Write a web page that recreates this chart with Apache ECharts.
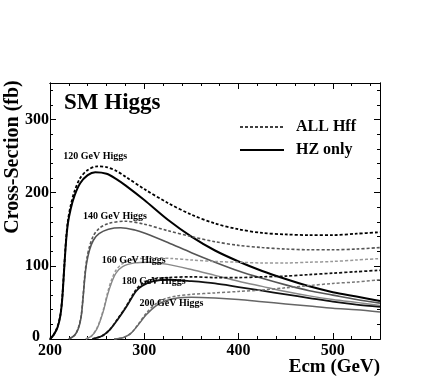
<!DOCTYPE html>
<html>
<head>
<meta charset="utf-8">
<script src="https://cdn.jsdelivr.net/npm/echarts@6/dist/echarts.min.js"></script>
<style>
html, body { margin: 0; padding: 0; background: #fff; }
#chart { width: 427px; height: 377px; }
</style>
</head>
<body>
<div id="chart"></div>
<script>
// cross-section (fb) vs Ecm (GeV)
var h120All = [[200,0],[204,6],[208,17],[211,33],[213,57],[215,97],[217,136],[219,162],[222,183],[226,202],[232,220],[240,231],[250,236],[260,235],[270,230],[280,222],[300,205],[325,186],[350,170],[375,158],[400,150],[425,145],[450,143],[475,142],[500,142],[525,144],[550,146]];
var h120Hz = [[200,0],[204,6],[208,16],[211,32],[213,55],[215,95],[217,133],[219,158],[222,178],[226,196],[232,213],[240,224],[248,228],[260,226],[270,219],[280,210],[300,190],[325,163],[350,140],[375,121],[400,106],[425,93],[450,82],[475,72],[500,64],[525,58],[550,52]];
var h140All = [[220,0],[226,5],[230,15],[233,31],[235,57],[237,88],[239,109],[242,127],[246,141],[252,151],[262,158],[280,161],[300,157],[325,148],[350,140],[375,133],[400,128],[425,125],[450,123],[475,122],[500,122],[525,123],[550,125]];
var h140Hz = [[220,0],[226,5],[230,14],[233,30],[235,55],[237,85],[239,105],[242,122],[246,135],[252,144],[262,150],[275,152],[290,149],[300,145],[325,132],[350,118],[375,105],[400,93],[425,83],[450,74],[475,66],[500,60],[525,54],[550,49]];
var h160All = [[238,0],[244,4],[249,13],[253,25],[257,42],[261,63],[265,80],[270,94],[277,103],[290,109],[310,111],[330,110],[350,108],[375,106],[400,105],[425,104],[450,104],[475,105],[500,106],[525,108],[550,110]];
var h160Hz = [[238,0],[244,4],[249,12],[253,24],[257,40],[261,60],[265,76],[270,90],[277,99],[290,104],[305,105],[325,102],[350,95],[375,87],[400,79],[425,72],[450,65],[475,59],[500,54],[525,50],[550,46]];
var h180All = [[245,0],[255,4],[263,12],[272,28],[281,45],[291,67],[298,76],[310,82],[325,84],[350,85],[375,84],[400,84],[425,85],[450,86],[475,88],[500,90],[525,92],[550,94]];
var h180Hz = [[245,0],[255,4],[263,12],[272,27],[281,44],[291,65],[298,73],[310,79],[325,81],[350,79],[375,76],[400,71],[425,66],[450,61],[475,56],[500,51],[525,47],[550,44]];
var h200All = [[268,0],[278,2],[286,8],[294,21],[302,35],[312,48],[322,55],[335,59],[350,61],[375,63],[400,65],[425,67],[450,70],[475,73],[500,76],[525,78],[550,81]];
var h200Hz = [[268,0],[278,2],[286,8],[294,20],[302,33],[312,45],[322,52],[335,56],[350,57],[375,56],[400,54],[425,51],[450,48],[475,45],[500,42],[525,40],[550,37]];

var massLabels = ['120 GeV Higgs', '140 GeV Higgs', '160 GeV Higgs', '180 GeV Higgs', '200 GeV Higgs'];
var labelAt = [[214,249],[235,168],[255,108],[276,79],[295,49]];
var legendNames = ['ALL Hff', 'HZ only'];

var serif = '"Liberation Serif", "Times New Roman", serif';
var chart = echarts.init(document.getElementById('chart'));

function curve(name, data, color, dashed, width) {
    return {
        name: name,
        type: 'line',
        data: data,
        smooth: 0.3,
        symbol: 'none',
        xAxisIndex: 0,
        yAxisIndex: 0,
        lineStyle: { color: color, width: width, type: dashed ? [3, 2] : 'solid' },
        itemStyle: { color: color },
        z: 3
    };
}

function xAx(pos, interval, len, labels) {
    return {
        type: 'value', position: pos, min: 200, max: 550, interval: interval,
        axisLine: { show: true, onZero: false, lineStyle: { color: '#000', width: 1 } },
        axisTick: { show: true, inside: true, length: len, lineStyle: { color: '#000' } },
        axisLabel: { show: labels, showMaxLabel: false, margin: 4, color: '#000',
            fontFamily: serif, fontWeight: 'bold', fontSize: 16 },
        splitLine: { show: false }
    };
}
function yAx(pos, interval, len, labels) {
    return {
        type: 'value', position: pos, min: 0, max: 350, interval: interval,
        axisLine: { show: true, onZero: false, lineStyle: { color: '#000', width: 1 } },
        axisTick: { show: true, inside: true, length: len, lineStyle: { color: '#000' } },
        axisLabel: { show: labels, showMaxLabel: false, margin: 1, color: '#000',
            fontFamily: serif, fontWeight: 'bold', fontSize: 16,
            formatter: function (v) { return v === 0 ? '{z|0}' : String(v); },
            rich: { z: { fontFamily: serif, fontWeight: 'bold', fontSize: 16, color: '#000', padding: [0, 9, 4, 0] } } },
        splitLine: { show: false }
    };
}

chart.setOption({
    animation: false,
    backgroundColor: '#fff',
    title: {
        text: 'SM Higgs', left: 59, top: 87,
        textStyle: { fontFamily: serif, fontWeight: 'bold', fontSize: 23, color: '#000' }
    },
    grid: { left: 50, right: 47, top: 83, bottom: 38 },
    xAxis: [xAx('bottom', 100, 6, true), xAx('bottom', 20, 3, false), xAx('top', 100, 6, false), xAx('top', 20, 3, false)],
    yAxis: [yAx('left', 100, 6, true), yAx('left', 20, 3, false), yAx('right', 100, 6, false), yAx('right', 20, 3, false)],
    series: [
        curve('ALL Hff', h120All, '#000', true, 1.8),
        curve('HZ only', h120Hz, '#000', false, 2),
        curve('ALL Hff', h140All, '#555', true, 1.6),
        curve('HZ only', h140Hz, '#555', false, 1.6),
        curve('ALL Hff', h160All, '#999', true, 1.5),
        curve('HZ only', h160Hz, '#888', false, 1.4),
        curve('ALL Hff', h180All, '#111', true, 1.7),
        curve('HZ only', h180Hz, '#111', false, 1.8),
        curve('ALL Hff', h200All, '#777', true, 1.5),
        curve('HZ only', h200Hz, '#666', false, 1.5)
    ]
});

var graphics = [
    { type: 'text', x: 13, y: 157, rotation: Math.PI / 2,
      style: { text: 'Cross-Section (fb)', fontFamily: serif, fontWeight: 'bold', fontSize: 20,
               fill: '#000', textAlign: 'center', textVerticalAlign: 'middle' } },
    { type: 'text', x: 380, y: 367,
      style: { text: 'Ecm (GeV)', fontFamily: serif, fontWeight: 'bold', fontSize: 19,
               fill: '#000', textAlign: 'right', textVerticalAlign: 'middle' } }
];
// legend, drawn by hand so the samples are plain lines
legendNames.forEach(function (t, i) {
    var y = 127 + i * 23;
    graphics.push({ type: 'line', shape: { x1: 240, y1: y, x2: 284, y2: y },
        style: { stroke: '#000', lineWidth: i === 0 ? 1.6 : 2, lineDash: i === 0 ? [3, 2] : null } });
    graphics.push({ type: 'text', x: 296, y: y,
        style: { text: t, fontFamily: serif, fontWeight: 'bold', fontSize: 16,
                 fill: '#000', textAlign: 'left', textVerticalAlign: 'middle' } });
});
massLabels.forEach(function (t, i) {
    var p = chart.convertToPixel({ xAxisIndex: 0, yAxisIndex: 0 }, labelAt[i]);
    graphics.push({ type: 'text', x: p[0], y: p[1], z: 10,
        style: { text: t, fontFamily: serif, fontWeight: 'bold', fontSize: 10,
                 fill: '#000', textAlign: 'left', textVerticalAlign: 'middle' } });
});
chart.setOption({ graphic: graphics });
</script>
</body>
</html>
